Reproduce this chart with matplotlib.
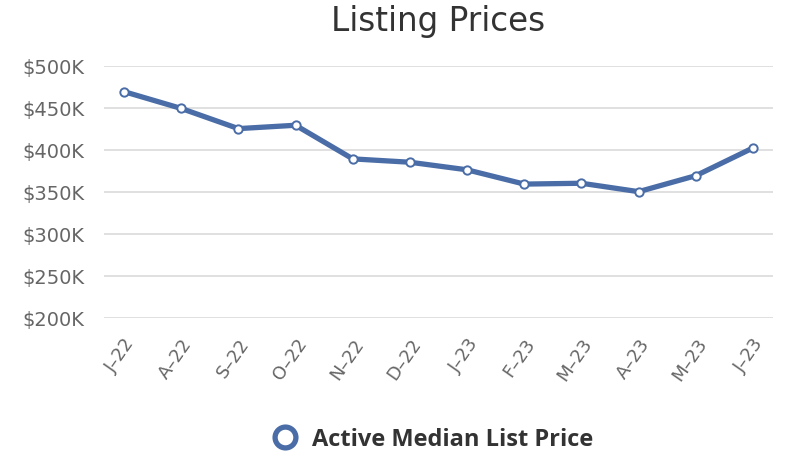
import matplotlib
matplotlib.use('Agg')
import matplotlib.pyplot as plt
from matplotlib.ticker import FuncFormatter
from matplotlib.lines import Line2D

plt.rcParams['font.family'] = ['DejaVu Sans']

months = ['J–22', 'A–22', 'S–22', 'O–22', 'N–22', 'D–22',
          'J–23', 'F–23', 'M–23', 'A–23', 'M–23', 'J–23']
prices = [469, 449, 425, 429, 389, 385, 376, 359, 360, 350, 369, 402]  # $K
yticks = [200, 250, 300, 350, 400, 450, 500]

blue = '#4a6da7'

fig = plt.figure(figsize=(8.06, 4.56), dpi=100)
ax = fig.add_axes([104 / 806, 0.301, (773 - 104) / 806, 0.553])

x = list(range(len(months)))
ax.plot(x, [p * 1000 for p in prices], color=blue, linewidth=3.8,
        marker='o', markersize=6, markerfacecolor='white',
        markeredgecolor=blue, markeredgewidth=1.4, zorder=3)

ax.set_xlim(-0.35, len(months) - 1 + 0.35)
ax.set_ylim(yticks[0] * 1000, yticks[-1] * 1000)
ax.set_yticks([t * 1000 for t in yticks])
ax.yaxis.set_major_formatter(FuncFormatter(lambda v, _: f'${v / 1000:.0f}K'))
ax.set_xticks(x)
ax.set_xticklabels(months, rotation=55, ha='right', va='top',
                   rotation_mode='anchor')

ax.grid(axis='y', color='#e0e0e0', linewidth=1.4)
ax.set_axisbelow(True)
for s in ax.spines.values():
    s.set_visible(False)
ax.tick_params(axis='both', length=0, labelcolor='#666666')
ax.tick_params(axis='y', pad=14, labelsize=14)
ax.tick_params(axis='x', pad=12, labelsize=13)

fig.text(0.5434, 0.952, 'Listing Prices', ha='center', va='center',
         fontsize=23.5, color='#333333')

handle = Line2D([], [], color=blue, marker='o', linestyle='none',
                markersize=15, markerfacecolor='white',
                markeredgewidth=3.8, markeredgecolor=blue)
fig.legend([handle], ['Active Median List Price'], loc='center',
           bbox_to_anchor=(0.53, 0.035), frameon=False,
           prop={'family': 'Open Sans', 'size': 17, 'weight': 'bold'},
           labelcolor='#333333', handletextpad=0.15)

fig.savefig('out.png', dpi=100)
